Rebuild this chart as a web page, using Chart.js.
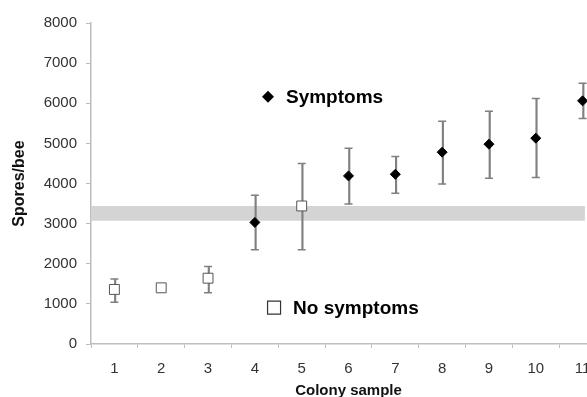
<!DOCTYPE html>
<html>
<head>
<meta charset="utf-8">
<script src="https://cdn.jsdelivr.net/npm/chart.js@4/dist/chart.umd.min.js"></script>
<style>
  html, body { margin: 0; padding: 0; background: #fff; overflow: hidden; }
  #wrap { width: 620px; height: 397px; }
</style>
</head>
<body>
<div id="wrap"><canvas id="myChart"></canvas></div>
<script>
// colony samples and spore counts
const colonies = ['1','2','3','4','5','6','7','8','9','10','11'];
const noSymptoms = [1360, 1400, 1640, null, 3440, null, null, null, null, null, null];
const symptoms = [null, null, null, 3030, null, 4190, 4230, 4780, 4980, 5130, 6060];
const errLow  = [1040, null, 1280, 2350, 2350, 3490, 3760, 3990, 4130, 4150, 5620];
const errHigh = [1620, null, 1930, 3710, 4500, 4880, 4670, 5550, 5800, 6120, 6500];
const bandLow = 3070;
const bandHigh = 3440;
const bandStart = 0.5;
const bandEnd = 11.05;

const grey = '#808080';

// in-plot key (marker + bold text), placed in data units
const keyPlugin = {
  id: 'key',
  afterDatasetsDraw(chart, args, opts) {
    const ctx = chart.ctx;
    const xs = chart.scales.x2, ys = chart.scales.y;
    opts.items.forEach((k) => {
      const px = xs.getPixelForValue(k.x);
      const py = ys.getPixelForValue(k.y);
      ctx.save();
      ctx.beginPath();
      if (k.style == 'diamond') {
        ctx.moveTo(px, py - 6);
        ctx.lineTo(px + 6, py);
        ctx.lineTo(px, py + 6);
        ctx.lineTo(px - 6, py);
        ctx.closePath();
        ctx.fillStyle = '#000';
        ctx.fill();
      } else {
        ctx.rect(px - 6.5, py - 6.5, 13, 13);
        ctx.fillStyle = '#fff';
        ctx.fill();
        ctx.lineWidth = 1.2;
        ctx.strokeStyle = '#333';
        ctx.stroke();
      }
      ctx.fillStyle = '#000';
      ctx.font = 'bold 19px Arial';
      ctx.textBaseline = 'middle';
      ctx.fillText(k.text, px + k.gap, py + 1);
      ctx.restore();
    });
  }
};

let ctx = document.getElementById('myChart').getContext('2d');
let chart = new Chart(ctx, {
  type: 'bar',
  data: {
    labels: colonies,
    datasets: [
      {
        type: 'line',
        label: 'bandTop',
        xAxisID: 'x2',
        data: [{x: bandStart, y: bandHigh}, {x: bandEnd, y: bandHigh}],
        borderWidth: 0,
        pointRadius: 0,
        fill: false,
        order: 11
      },
      {
        type: 'line',
        label: 'band',
        xAxisID: 'x2',
        data: [{x: bandStart, y: bandLow}, {x: bandEnd, y: bandLow}],
        borderWidth: 0,
        pointRadius: 0,
        backgroundColor: '#d4d4d4',
        fill: '-1',
        order: 10
      },
      {
        label: 'error',
        data: errLow.map((lo, i) => lo == null ? null : [lo, errHigh[i]]),
        backgroundColor: grey,
        borderWidth: 0,
        barThickness: 1.5,
        order: 5
      },
      {
        type: 'line',
        label: 'capHigh',
        data: errHigh,
        showLine: false,
        pointStyle: 'line',
        pointRadius: 4,
        borderColor: grey,
        borderWidth: 1.5,
        order: 4
      },
      {
        type: 'line',
        label: 'capLow',
        data: errLow,
        showLine: false,
        pointStyle: 'line',
        pointRadius: 4,
        borderColor: grey,
        borderWidth: 1.5,
        order: 4
      },
      {
        type: 'line',
        label: 'No symptoms',
        data: noSymptoms,
        showLine: false,
        pointStyle: 'rect',
        pointRadius: 7,
        backgroundColor: '#fff',
        borderColor: '#555',
        borderWidth: 1,
        order: 1
      },
      {
        type: 'line',
        label: 'Symptoms',
        data: symptoms,
        showLine: false,
        pointStyle: 'rectRot',
        pointRadius: 5,
        backgroundColor: '#000',
        borderColor: '#000',
        borderWidth: 1,
        order: 0
      }
    ]
  },
  options: {
    responsive: true,
    maintainAspectRatio: false,
    animation: false,
    events: [],
    layout: { padding: { top: 23, right: 14, bottom: 0, left: 0 } },
    plugins: {
      legend: { display: false },
      tooltip: { enabled: false },
      key: {
        items: [
          { style: 'diamond', x: 4.28, y: 6160, text: 'Symptoms', gap: 18 },
          { style: 'square', x: 4.41, y: 905, text: 'No symptoms', gap: 19 }
        ]
      }
    },
    scales: {
      x: {
        type: 'category',
        offset: true,
        grid: { offset: true, drawOnChartArea: false, tickLength: 4, color: '#bdbdbd', tickColor: '#bdbdbd' },
        border: { color: '#bdbdbd', width: 1.5 },
        ticks: { color: '#333', font: { size: 15, family: 'Arial' }, padding: 12, maxRotation: 0 },
        title: { display: true, text: 'Colony sample', color: '#111', font: { size: 15, weight: 'bold', family: 'Arial' }, padding: { top: 0, bottom: -3 } },
        afterFit: (s) => { s.height = 53; }
      },
      x2: {
        type: 'linear',
        display: false,
        offset: false,
        min: 0.5,
        max: 11.5
      },
      y: {
        min: 0,
        max: 8000,
        ticks: { stepSize: 1000, color: '#333', font: { size: 15, family: 'Arial' }, padding: 9, callback: (v) => String(v) },
        grid: { drawOnChartArea: false, tickLength: 5, color: '#bdbdbd', tickColor: '#bdbdbd' },
        border: { color: '#bdbdbd', width: 1.5 },
        title: { display: true, text: 'Spores/bee', color: '#111', font: { size: 16, weight: 'bold', family: 'Arial' }, padding: { top: 10, bottom: 0 } },
        afterFit: (s) => { s.width = 91; }
      }
    }
  },
  plugins: [keyPlugin]
});
</script>
</body>
</html>
